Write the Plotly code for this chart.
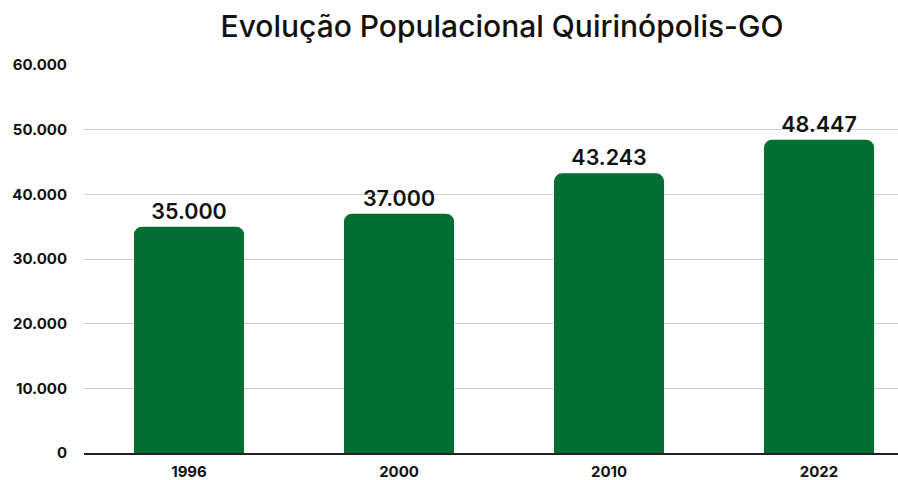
import plotly.graph_objects as go

years = ["1996", "2000", "2010", "2022"]
population = [35000, 37000, 43243, 48447]
labels = ["35.000", "37.000", "43.243", "48.447"]
y_ticks = [0, 10000, 20000, 30000, 40000, 50000, 60000]
y_tick_text = ["0", "10.000", "20.000", "30.000", "40.000", "50.000", "60.000"]

FONT = "Inter"
fig = go.Figure(go.Bar(
    x=years, y=population, text=labels, textposition="outside",
    textfont=dict(family=FONT, size=21.5, color="#111111", weight=600),
    marker=dict(color="#036E32", cornerradius=8, line=dict(width=0)),
    cliponaxis=False,
))
fig.update_layout(
    width=898, height=480,
    margin=dict(l=84, r=0, t=65, b=27, autoexpand=False),
    paper_bgcolor="white", plot_bgcolor="white",
    bargap=0.476,
    showlegend=False,
    title=dict(text="Evolução Populacional Quirinópolis-GO", x=0.559, xref="container",
               xanchor="center", y=0.945, yref="container", yanchor="middle",
               font=dict(family=FONT, size=30, color="#111111", weight=500)),
    xaxis=dict(type="category", range=[-0.5, 3.376], showgrid=False, automargin=False,
               showline=True, linecolor="#222222", linewidth=1.5,
               tickfont=dict(family=FONT, size=15, color="#111111", weight=700),
               ticks="", ticklabelstandoff=4),
    yaxis=dict(range=[0, 60000], tickvals=y_ticks, ticktext=y_tick_text, automargin=False,
               showgrid=True, gridcolor="#cfcfcf", gridwidth=1, zeroline=False,
               tickfont=dict(family=FONT, size=15, color="#111111", weight=700),
               ticks="", ticklabelstandoff=16),
)
fig.write_html("out.html", config={"displayModeBar": False},
               post_script="document.body.style.margin='0';document.body.style.overflow='hidden';")
